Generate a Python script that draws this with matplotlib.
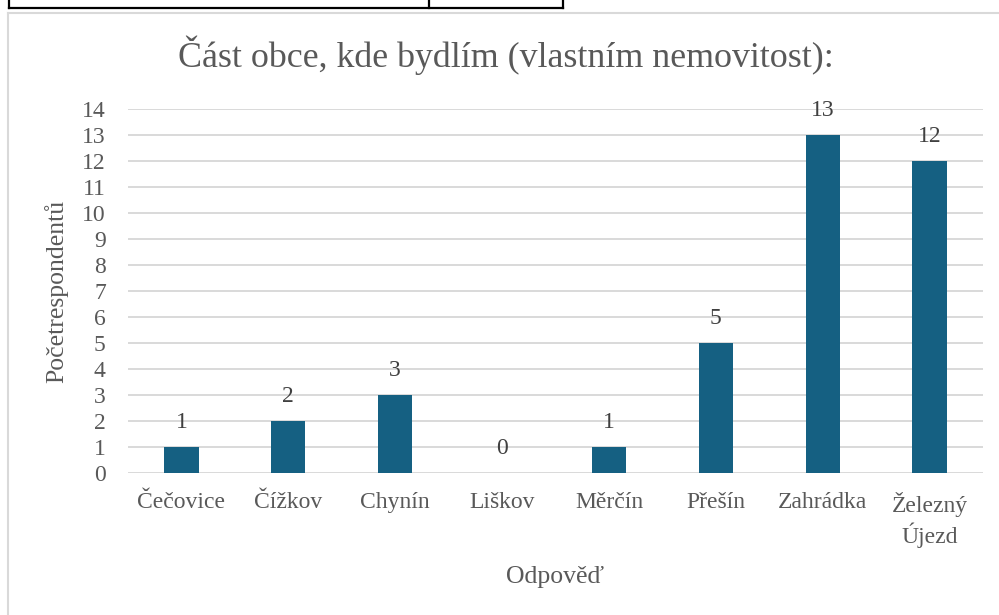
import numpy as np
import matplotlib
matplotlib.use('Agg')
import matplotlib.pyplot as plt
from matplotlib.lines import Line2D

# data
categories = ["Čečovice", "Čížkov", "Chynín", "Liškov", "Měrčín", "Přešín", "Zahrádka", "Železný\nÚjezd"]
counts = [1, 2, 3, 0, 1, 5, 13, 12]
y_ticks = list(range(0, 15))

title = "Část obce, kde bydlím (vlastním nemovitost):"
x_label = "Odpověď"
y_label = "Početrespondentů"

plt.rcParams['font.family'] = ['Liberation Serif', 'DejaVu Serif']

bar_color = "#156082"
text_gray = "#595959"
grid_gray = "#d9d9d9"

W, H = 999, 615
fig = plt.figure(figsize=(W / 100, H / 100), dpi=100, facecolor="white")

# plot area
ax = fig.add_axes([128 / W, 1 - 473 / H, (983 - 128) / W, (473 - 109) / H])

x = np.arange(len(categories))
bars = ax.bar(x, counts, width=0.32, color=bar_color, zorder=3)
ax.bar_label(bars, labels=[str(c) for c in counts], padding=10,
             fontsize=17, color="#404040")

ax.set_xlim(-0.5, len(categories) - 0.5)
ax.set_ylim(0, 14)
ax.set_yticks(y_ticks)
ax.set_xticks(x)
ax.set_xticklabels(categories, linespacing=1.25)

ax.yaxis.grid(True, color=grid_gray, linewidth=1.4, zorder=0)
ax.set_axisbelow(True)
for s in ax.spines.values():
    s.set_visible(False)

ax.tick_params(axis='y', length=0, pad=16, labelsize=17, labelcolor=text_gray)
ax.tick_params(axis='x', length=0, pad=14, labelsize=17, labelcolor=text_gray)

ax.set_xlabel(x_label, fontsize=18.5, color=text_gray, labelpad=13)
ax.set_ylabel(y_label, fontsize=18.5, color=text_gray, labelpad=10)

fig.text(506 / W, 1 - 55 / H, title, ha="center", va="center",
         fontsize=25.8, color=text_gray)

# chart area border (light gray) and the table fragment above it
fig.add_artist(Line2D([8 / W, 1.0], [1 - 13 / H, 1 - 13 / H], color=grid_gray, lw=1.5))
fig.add_artist(Line2D([8 / W, 8 / W], [0.0, 1 - 13 / H], color=grid_gray, lw=1.5))
fig.add_artist(Line2D([9 / W, 563 / W], [1 - 8 / H, 1 - 8 / H], color="black", lw=1.6))
for xv in [9, 429, 563]:
    fig.add_artist(Line2D([xv / W, xv / W], [1 - 8 / H, 1.0], color="black", lw=1.6))

fig.savefig("out.png", dpi=100, facecolor="white")
